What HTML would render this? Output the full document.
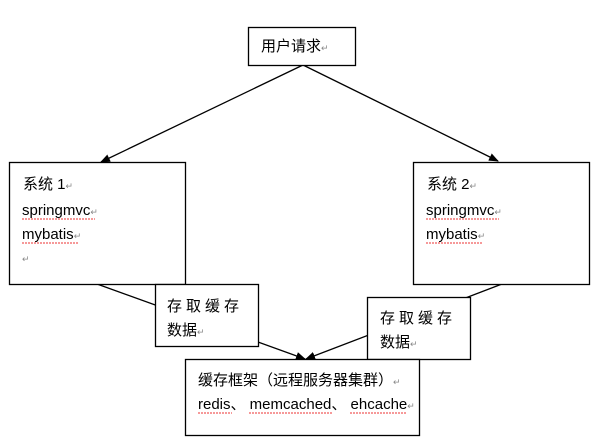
<html><body style="margin:0;background:#fff">
<svg width="614" height="448" xmlns="http://www.w3.org/2000/svg" style="display:block;font-family:'Liberation Sans','Noto Sans CJK SC',sans-serif">
<defs><marker id="a" markerWidth="10" markerHeight="8" refX="9" refY="4" orient="auto" markerUnits="userSpaceOnUse"><path d="M0,0L10,4L0,8z" fill="#000"/></marker></defs>
<g stroke="#000" stroke-width="1.3" fill="none">
<line x1="303" y1="65" x2="101" y2="162" marker-end="url(#a)"/>
<line x1="303" y1="65" x2="498" y2="161" marker-end="url(#a)"/>
<line x1="97" y1="284" x2="305" y2="359" marker-end="url(#a)"/>
<line x1="502" y1="284" x2="306" y2="359" marker-end="url(#a)"/>
</g>
<g stroke="#000" stroke-width="1.3" fill="#fff">
<rect x="248.5" y="27.5" width="107" height="38"/>
<rect x="9.5" y="162.5" width="176" height="122"/>
<rect x="413.5" y="162.5" width="176" height="122"/>
<rect x="155.5" y="284.5" width="103" height="62"/>
<rect x="367.5" y="297.5" width="103" height="62"/>
<rect x="185.5" y="359.5" width="234" height="76"/>
</g>
<g font-size="15" fill="#000">
<text x="261" y="51">用户请求<tspan fill="#888" font-size="9">↵</tspan></text>
<text x="23" y="189">系统 1<tspan fill="#888" font-size="9">↵</tspan></text>
<text x="22" y="215">springmvc<tspan fill="#888" font-size="9">↵</tspan></text>
<text x="22" y="239">mybatis<tspan fill="#888" font-size="9">↵</tspan></text>
<text x="22" y="262" fill="#888" font-size="9">↵</text>
<text x="427" y="189">系统 2<tspan fill="#888" font-size="9">↵</tspan></text>
<text x="426" y="215">springmvc<tspan fill="#888" font-size="9">↵</tspan></text>
<text x="426" y="239">mybatis<tspan fill="#888" font-size="9">↵</tspan></text>
<text x="167" y="311" letter-spacing="4">存取缓存</text>
<text x="167" y="335">数据<tspan fill="#888" font-size="9">↵</tspan></text>
<text x="380" y="323" letter-spacing="4">存取缓存</text>
<text x="380" y="347">数据<tspan fill="#888" font-size="9">↵</tspan></text>
<text x="198" y="385">缓存框架（远程服务器集群）<tspan fill="#888" font-size="9">↵</tspan></text>
<text x="198" y="409">redis、 memcached、 ehcache<tspan fill="#888" font-size="9">↵</tspan></text>
</g>
<g stroke="#e33" stroke-width="1" stroke-dasharray="2,1">
<line x1="22" y1="219" x2="95" y2="219"/><line x1="22" y1="243" x2="78" y2="243"/>
<line x1="426" y1="219" x2="499" y2="219"/><line x1="426" y1="243" x2="482" y2="243"/>
<line x1="198" y1="413" x2="232" y2="413"/><line x1="249" y1="413" x2="333" y2="413"/><line x1="350" y1="413" x2="406" y2="413"/>
</g>
</svg>
</body></html>
